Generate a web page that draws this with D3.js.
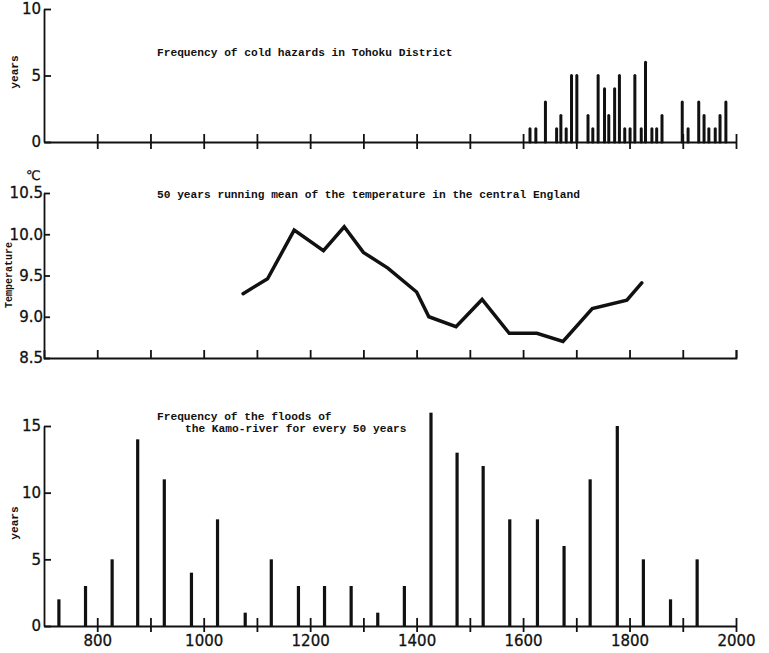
<!DOCTYPE html>
<html>
<head>
<meta charset="utf-8">
<script src="https://cdn.jsdelivr.net/npm/d3@7"></script>
<style>
  body { margin: 0; background: #fff; }
  .num { font-family: "DejaVu Sans", sans-serif; font-size: 15px; fill: #111; stroke: #111; stroke-width: 0.3; }
  .note { font-family: "Liberation Mono", monospace; font-size: 11.2px; font-weight: bold; fill: #111; }
  .domain, .tick line { stroke: #111; stroke-width: 1.8; }
</style>
</head>
<body>
<div class="chart"></div>
<script>
// cold hazards in Tohoku (years per decade)
const coldYears = [1613, 1624, 1642, 1663, 1671, 1681, 1691, 1701, 1722, 1731, 1741, 1753, 1761,
  1772, 1781, 1791, 1801, 1810, 1822, 1830, 1842, 1851, 1861, 1899, 1910, 1930, 1940, 1949, 1961, 1970, 1981];
const coldCounts = [1, 1, 3, 1, 2, 1, 5, 5, 2, 1, 5, 4, 2, 4, 5, 1, 1, 5, 1, 6, 1, 1, 2, 3, 1, 3, 2, 1, 1, 2, 3];

// 50 years running mean, central England
const tempYears = [1074, 1120, 1170, 1225, 1264, 1300, 1346, 1400, 1423, 1474, 1523, 1574, 1626, 1675, 1730, 1795, 1823];
const tempValues = [9.28, 9.46, 10.05, 9.80, 10.09, 9.78, 9.59, 9.30, 9.00, 8.88, 9.21, 8.80, 8.80, 8.70, 9.10, 9.20, 9.41];

// floods of the Kamo-river per 50 years
const floodYears = [728, 778, 828, 876, 926, 977, 1026, 1078, 1127, 1178, 1227, 1277, 1327, 1377, 1427,
  1476, 1525, 1575, 1627, 1677, 1726, 1777, 1826, 1877, 1927];
const floodCounts = [2, 3, 5, 14, 11, 4, 8, 1, 5, 3, 3, 3, 1, 3, 16, 13, 12, 8, 8, 6, 11, 15, 5, 2, 5];

const xTicks = [800, 900, 1000, 1100, 1200, 1300, 1400, 1500, 1600, 1700, 1800, 1900, 2000];
const coldTicks = [0, 5, 10];
const tempTicks = [8.5, 9.0, 9.5, 10.0, 10.5];
const floodTicks = [0, 5, 10, 15];

const width = 769, height = 653;

const svg = d3.select('.chart').append('svg')
    .attr('width', width)
    .attr('height', height);

const x = d3.scaleLinear().domain([700, 2000]).range([44, 736]);

function crossTicks(g, up, down) {
  g.selectAll('.tick line').attr('y1', -up).attr('y2', down);
}

function numLabels(g) {
  g.selectAll('text').attr('class', 'num').attr('font-family', null).attr('font-size', null);
}

// ---- top panel
const yCold = d3.scaleLinear().domain([0, 10]).range([142, 9]);

svg.append('g')
    .attr('transform', 'translate(0,' + yCold(0) + ')')
    .call(d3.axisBottom(x).tickValues(xTicks).tickFormat('').tickSizeOuter(0))
    .call(g => crossTicks(g, 8, 7));

svg.append('g')
    .attr('transform', 'translate(' + x(700) + ',0)')
    .call(d3.axisLeft(yCold).tickValues(coldTicks).tickSize(-7).tickSizeOuter(0).tickPadding(3))
    .call(numLabels);

svg.selectAll('.cold')
  .data(coldYears)
  .enter().append('line')
    .attr('class', 'cold')
    .attr('x1', d => x(d)).attr('x2', d => x(d))
    .attr('y1', yCold(0))
    .attr('y2', (d, i) => yCold(coldCounts[i]))
    .attr('stroke', '#111')
    .attr('stroke-width', 3)
    .attr('stroke-linecap', 'round');

svg.append('text').attr('class', 'note')
    .attr('x', 157).attr('y', 56)
    .text('Frequency of cold hazards in Tohoku District');

svg.append('text').attr('class', 'note')
    .attr('transform', 'translate(18,72) rotate(-90)')
    .attr('text-anchor', 'middle')
    .text('years');

// ---- middle panel
const yTemp = d3.scaleLinear().domain([8.5, 10.5]).range([358, 193]);

svg.append('g')
    .attr('transform', 'translate(0,' + yTemp(8.5) + ')')
    .call(d3.axisBottom(x).tickValues(xTicks).tickFormat('').tickSizeOuter(0).tickSize(-8));

svg.append('g')
    .attr('transform', 'translate(' + x(700) + ',0)')
    .call(d3.axisLeft(yTemp).tickValues(tempTicks).tickFormat(d3.format('.1f')).tickSize(-6).tickSizeOuter(0).tickPadding(1))
    .call(numLabels);

const line = d3.line()
    .x((d, i) => x(tempYears[i]))
    .y(d => yTemp(d));

svg.append('path')
    .datum(tempValues)
    .attr('d', line)
    .attr('fill', 'none')
    .attr('stroke', '#111')
    .attr('stroke-width', 3.5)
    .attr('stroke-linejoin', 'miter')
    .attr('stroke-linecap', 'round');

svg.append('text').attr('class', 'note')
    .attr('x', 157).attr('y', 198)
    .text('50 years running mean of the temperature in the central England');

svg.append('text').attr('class', 'num')
    .attr('x', 26).attr('y', 180)
    .style('font-size', '13px')
    .text('℃');

svg.append('text').attr('class', 'note')
    .attr('transform', 'translate(12,275) rotate(-90)')
    .attr('text-anchor', 'middle')
    .style('font-size', '10px')
    .text('Temperature');

// ---- bottom panel
const yFlood = d3.scaleLinear().domain([0, 15]).range([626, 426]);

svg.append('g')
    .attr('transform', 'translate(0,' + yFlood(0) + ')')
    .call(d3.axisBottom(x).tickValues(xTicks).tickFormat(d => d % 200 === 0 ? d : '').tickSizeOuter(0).tickPadding(3))
    .call(g => crossTicks(g, 8, 6))
    .call(numLabels);

svg.append('g')
    .attr('transform', 'translate(' + x(700) + ',0)')
    .call(d3.axisLeft(yFlood).tickValues(floodTicks).tickSize(-7).tickSizeOuter(0).tickPadding(3))
    .call(numLabels);

svg.selectAll('.flood')
  .data(floodYears)
  .enter().append('rect')
    .attr('class', 'flood')
    .attr('x', d => x(d) - 1.6)
    .attr('width', 3.2)
    .attr('y', (d, i) => yFlood(floodCounts[i]))
    .attr('height', (d, i) => yFlood(0) - yFlood(floodCounts[i]))
    .attr('fill', '#111');

svg.append('text').attr('class', 'note')
    .attr('x', 157).attr('y', 420)
    .text('Frequency of the floods of');

svg.append('text').attr('class', 'note')
    .attr('x', 185).attr('y', 432)
    .text('the Kamo-river for every 50 years');

svg.append('text').attr('class', 'note')
    .attr('transform', 'translate(18,523) rotate(-90)')
    .attr('text-anchor', 'middle')
    .text('years');
</script>
</body>
</html>
